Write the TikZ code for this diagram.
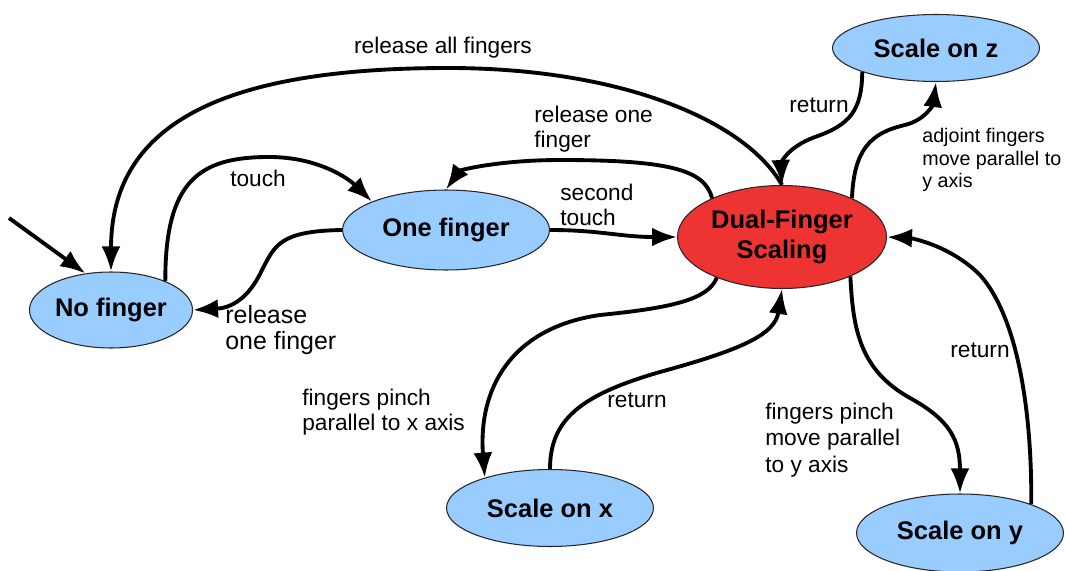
\documentclass[tikz,border=0pt]{standalone}
\usepackage{fontspec}
\setmainfont{Liberation Sans}
\usetikzlibrary{arrows.meta,shapes.geometric,positioning}
\definecolor{stblue}{RGB}{153,204,255}
\definecolor{stred}{RGB}{238,51,51}

\begin{document}
\begin{tikzpicture}[x=0.02cm, y=-0.02cm, >={Latex[length=5mm,width=3.8mm]},
    st/.style={ellipse, draw=black!85, line width=0.6pt, inner sep=1pt, align=center,
               font=\fontsize{14.5}{17.6}\selectfont\bfseries,
               fill=stblue, minimum width=4.14cm, minimum height=1.54cm},
    tr/.style={->, line width=2.2pt},
    lbl/.style={inner sep=0pt, align=left, font=\fontsize{12.9}{14.2}\selectfont}]
\useasboundingbox (0,0) rectangle (1065,571);
% states
\node[st, minimum width=3.14cm, minimum height=1.52cm] (nf) at (111,310) {No finger};
\node[st, minimum height=1.6cm]                        (of) at (446,230) {One finger};
\node[st, fill=stred, minimum width=4.18cm, minimum height=2.06cm]
                                                       (df) at (782,237) {Dual-Finger\\Scaling};
\node[st, minimum height=1.34cm]                       (sz) at (936,48)  {Scale on z};
\node[st]                                              (sx) at (550,508) {Scale on x};
\node[st, minimum height=1.56cm]                       (sy) at (960,533) {Scale on y};
\coordinate (start) at (9,218);

% transitions
\draw[tr] (start) -- (nf.125);
\draw[tr] (nf.28) .. controls (165,180) and (200,157) .. (269,157)
                  .. controls (320,157) and (350,180) .. (of.159);
\draw[tr] (of.west) .. controls (280,231) and (275,245) .. (262,270)
                    .. controls (248,300) and (230,308) .. (nf.east);
\draw[tr] (df.north) .. controls (745,120) and (620,68) .. (448,68)
                     .. controls (230,68) and (111,120) .. (nf.north);
\draw[tr] (of.east) .. controls (600,230) and (620,237) .. (df.west);
\draw[tr] (df.151) .. controls (705,170) and (670,160) .. (560,160)
                   .. controls (500,160) and (460,170) .. (of.north);
\draw[tr] (sz.198) .. controls (862,110) and (850,125) .. (815,137)
                   .. controls (785,148) and (781,165) .. (df.north);
\draw[tr] (df.29) .. controls (854,150) and (870,133) .. (905,125)
                  .. controls (925,120) and (933,105) .. (sz.south);
\draw[tr] (df.212) .. controls (708,300) and (670,308) .. (600,315)
                   .. controls (510,328) and (478,390) .. (sx.155);
\draw[tr] (sx.north) .. controls (550,420) and (580,395) .. (660,372)
                     .. controls (740,350) and (775,335) .. (df.south);
\draw[tr] (df.330) .. controls (853,330) and (860,370) .. (910,398)
                   .. controls (950,420) and (960,440) .. (sy.north);
\draw[tr] (sy.22) .. controls (1032,420) and (1020,320) .. (980,275)
                  .. controls (950,245) and (910,238) .. (df.east);

% labels
\node[lbl] (l1) at (443,48) {release all fingers};
\node[lbl] (l2) at (258,178) {touch};
\node[lbl, anchor=west, font=\fontsize{14.2}{14.8}\selectfont] (l3) at (225,330) {release\\one finger};
\node[lbl, anchor=west] (l4) at (560,205) {second\\touch};
\node[lbl, anchor=west] (l5) at (534,129) {release one\\finger};
\node[lbl] (l6) at (819,105) {return};
\node[lbl, anchor=west, font=\fontsize{11.2}{12.8}\selectfont] (l7) at (922,160) {adjoint fingers\\move parallel to\\y axis};
\node[lbl, anchor=west] (l8) at (302,412) {fingers pinch\\parallel to x axis};
\node[lbl] (l9) at (637,400) {return};
\node[lbl, anchor=west, font=\fontsize{12.9}{15.1}\selectfont] (l10) at (765,440) {fingers pinch\\move parallel\\to y axis};
\node[lbl] (l11) at (980,350) {return};
\end{tikzpicture}
\end{document}
